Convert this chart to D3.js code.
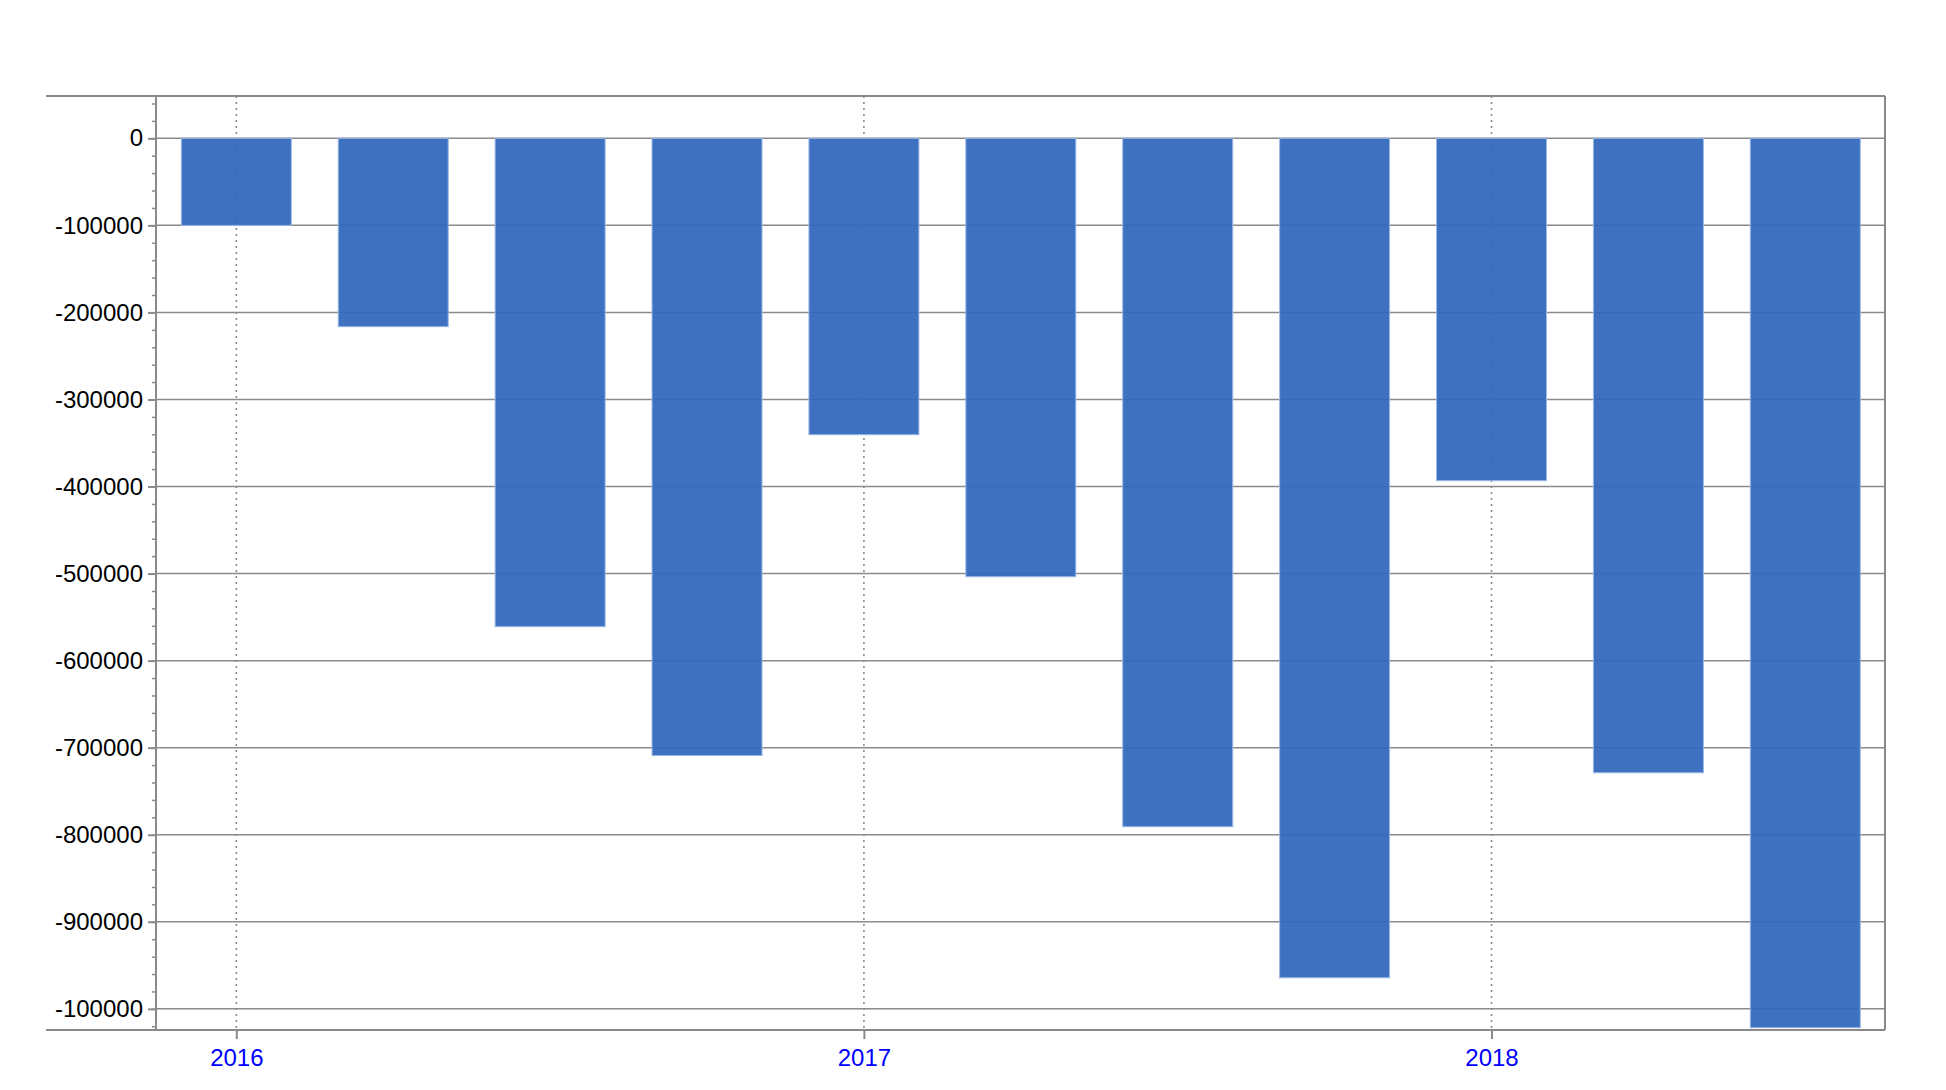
<!DOCTYPE html>
<html>
<head>
<meta charset="utf-8">
<script src="https://cdn.jsdelivr.net/npm/d3@7"></script>
<style>
  body { margin: 0; background: #fff; }
  svg { display: block; font-family: "Liberation Sans", Arial, sans-serif; }
  .grid line { stroke: #8a8a8a; stroke-width: 1.5; }
  .vgrid line { stroke: #8a8a8a; stroke-width: 1.6; stroke-dasharray: 2 4; }
</style>
</head>
<body>
<svg width="1946" height="1090"></svg>
<script>
// quarters shown on the chart
let quarters = ['2016-Q1', '2016-Q2', '2016-Q3', '2016-Q4',
    '2017-Q1', '2017-Q2', '2017-Q3', '2017-Q4',
    '2018-Q1', '2018-Q2', '2018-Q3'];
let values = [-100000, -216400, -561000, -709000, -340500, -503600,
    -790800, -964300, -393300, -728800, -1021700];

let yTicks = [0, -100000, -200000, -300000, -400000, -500000, -600000, -700000, -800000, -900000, -1000000];
// last label is cut short in the original
let yTickLabels = ['0', '-100000', '-200000', '-300000', '-400000', '-500000', '-600000', '-700000', '-800000', '-900000', '-100000'];
let xTickLabels = ['2016', '2017', '2018'];

const plotLeft = 156, plotRight = 1885, plotTop = 96, plotBottom = 1030;

let svg = d3.select('svg');

let x = d3.scaleLinear().domain([-0.512, 10.508]).range([plotLeft, plotRight]);
let y = d3.scaleLinear().domain([-1024300, 48600]).range([plotBottom, plotTop]);

let barW = 110;
let yearIdx = quarters.map((q, i) => [q, i]).filter(d => d[0].endsWith('Q1')).map(d => d[1]);

// horizontal grid
svg.append('g')
    .attr('class', 'grid')
    .selectAll('line')
    .data(yTicks)
    .enter()
    .append('line')
    .attr('x1', plotLeft).attr('x2', plotRight)
    .attr('y1', d => y(d)).attr('y2', d => y(d));

// vertical dotted grid at the years
svg.append('g')
    .attr('class', 'vgrid')
    .selectAll('line')
    .data(yearIdx)
    .enter()
    .append('line')
    .attr('x1', d => x(d)).attr('x2', d => x(d))
    .attr('y1', plotTop).attr('y2', plotBottom);

// bars
svg.append('g')
    .selectAll('rect')
    .data(values)
    .enter()
    .append('rect')
    .attr('x', (d, i) => x(i) - barW / 2)
    .attr('width', barW)
    .attr('y', y(0))
    .attr('height', d => y(d) - y(0))
    .style('fill', 'rgb(50,104,188)')
    .style('fill-opacity', 0.94)
    .style('stroke', '#9bb8e4')
    .style('stroke-width', 1);

// frame
let frame = svg.append('g').style('stroke', '#8a8a8a').style('stroke-width', 2);
frame.append('line').attr('x1', 46).attr('x2', plotRight).attr('y1', plotTop).attr('y2', plotTop);
frame.append('line').attr('x1', 46).attr('x2', plotRight).attr('y1', plotBottom).attr('y2', plotBottom);
frame.append('line').attr('x1', plotRight).attr('x2', plotRight).attr('y1', plotTop).attr('y2', plotBottom);

// minor y ticks
let minor = d3.range(40000, -1040000, -20000);
svg.append('g')
    .attr('transform', 'translate(' + plotLeft + ',0)')
    .call(d3.axisLeft(y).tickValues(minor).tickSize(4).tickFormat(''))
    .call(g => g.select('.domain').remove())
    .selectAll('line').style('stroke', '#8a8a8a').style('stroke-width', 1.5);

// y axis
let yAxis = svg.append('g')
    .attr('transform', 'translate(' + plotLeft + ',0)')
    .call(d3.axisLeft(y).tickValues(yTicks).tickSize(8).tickPadding(5)
        .tickFormat((d, i) => yTickLabels[i]));
yAxis.select('.domain').attr('d', 'M0,' + plotTop + 'V' + plotBottom)
    .style('stroke', '#8a8a8a').style('stroke-width', 2);
yAxis.selectAll('line').style('stroke', '#8a8a8a').style('stroke-width', 2);
yAxis.selectAll('text')
    .style('font-size', '24px')
    .style('fill', '#000')
    .style('font-family', '"Liberation Sans", Arial, sans-serif');

// x axis
let xAxis = svg.append('g')
    .attr('transform', 'translate(0,' + plotBottom + ')')
    .call(d3.axisBottom(x).tickValues(yearIdx).tickSize(9).tickPadding(10)
        .tickFormat((d, i) => xTickLabels[i]));
xAxis.select('.domain').remove();
xAxis.selectAll('line').style('stroke', '#8a8a8a').style('stroke-width', 2);
xAxis.selectAll('text')
    .style('font-size', '24px')
    .style('fill', '#0000ff')
    .style('font-family', '"Liberation Sans", Arial, sans-serif');
</script>
</body>
</html>
